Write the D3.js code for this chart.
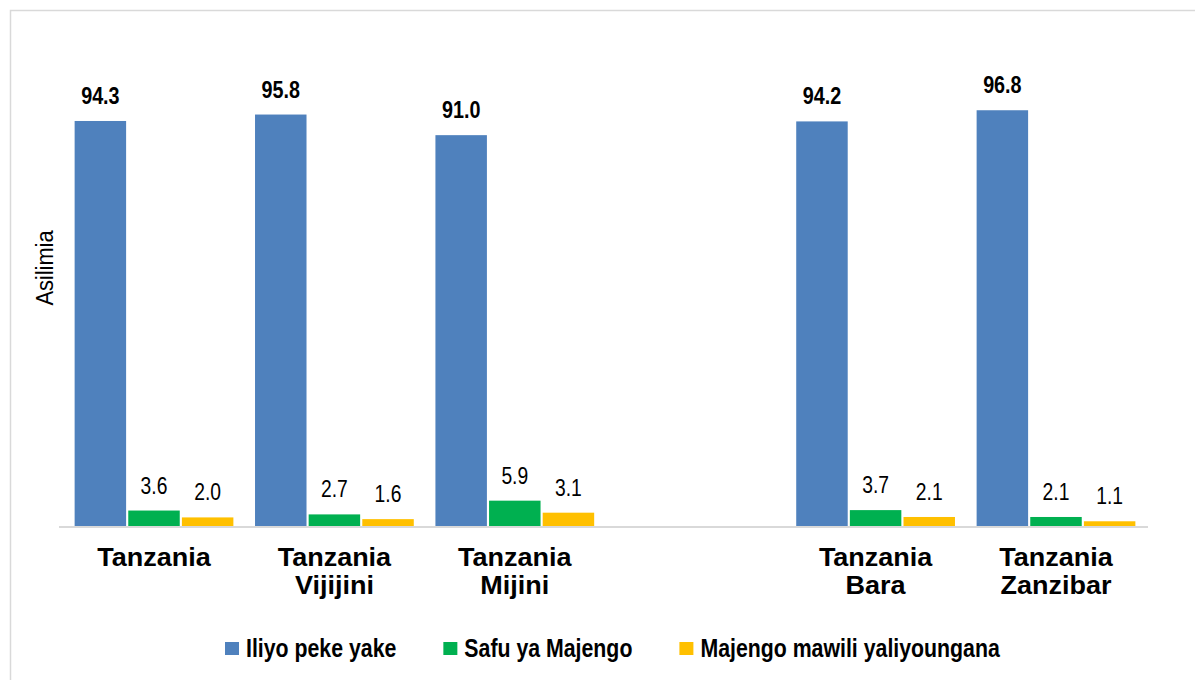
<!DOCTYPE html>
<html>
<head>
<meta charset="utf-8">
<script src="https://cdn.jsdelivr.net/npm/d3@7"></script>
<style>
  body { margin: 0; background: #fff; }
  svg text { fill: #000; font-family: 'Liberation Sans', Arial, sans-serif; }
</style>
</head>
<body>
<div id="chart"></div>
<script>
// categories (empty slot between Mijini and Bara)
var categories = ["Tanzania", "Tanzania Vijijini", "Tanzania Mijini", "", "Tanzania Bara", "Tanzania Zanzibar"];
var seriesNames = ["Iliyo peke yake", "Safu ya Majengo", "Majengo mawili yaliyoungana"];
var iliyoPeke = [94.3, 95.8, 91.0, null, 94.2, 96.8];
var safuMajengo = [3.6, 2.7, 5.9, null, 3.7, 2.1];
var majengoMawili = [2.0, 1.6, 3.1, null, 2.1, 1.1];
var colors = ["#4f81bd", "#00b050", "#ffc000"];
var yTitle = "Asilimia";

var width = 1195, height = 680;
var series = [iliyoPeke, safuMajengo, majengoMawili];

// no narrow font installed, so squeeze text horizontally
function place(x, y, sx, rot) {
  return 'translate(' + x + ',' + y + ')' + (rot ? ' rotate(' + rot + ')' : '') + ' scale(' + sx + ',1)';
}

var svg = d3.select('#chart')
  .append('svg')
  .attr('width', width)
  .attr('height', height);

// chart frame
svg.append('rect')
  .attr('x', 10.5).attr('y', 10.5)
  .attr('width', 1200).attr('height', 700)
  .attr('fill', 'none')
  .attr('stroke', '#d9d9d9')
  .attr('stroke-width', 1.5);

var x0 = d3.scaleBand()
  .domain(d3.range(categories.length))
  .range([62, 1148])
  .paddingInner(0.12)
  .paddingOuter(0.07);

var x1 = d3.scaleBand()
  .domain(d3.range(series.length))
  .range([0, x0.bandwidth()])
  .paddingInner(0.04);

var y = d3.scaleLinear()
  .domain([0, 100])
  .range([526, 96.5]);

var fmt = d3.format(".1f");

var rows = [];
categories.forEach(function(c, i) {
  series.forEach(function(s, j) {
    if (s[i] != null) rows.push({cat: i, ser: j, value: s[i]});
  });
});

var g = svg.append('g');

g.selectAll('rect.bar')
  .data(rows)
  .enter()
  .append('rect')
  .attr('class', 'bar')
  .attr('x', d => x0(d.cat) + x1(d.ser))
  .attr('y', d => y(d.value))
  .attr('width', x1.bandwidth())
  .attr('height', d => y(0) - y(d.value))
  .attr('fill', d => colors[d.ser]);

// baseline
svg.append('line')
  .attr('x1', 59).attr('x2', 1148)
  .attr('y1', y(0) + 1).attr('y2', y(0) + 1)
  .attr('stroke', '#d9d9d9')
  .attr('stroke-width', 2);

// value labels
g.selectAll('text.val')
  .data(rows)
  .enter()
  .append('text')
  .attr('class', 'val')
  .attr('transform', d => place(x0(d.cat) + x1(d.ser) + x1.bandwidth() / 2, y(d.value) - 17, d.ser === 0 ? 0.86 : 0.84))
  .attr('text-anchor', 'middle')
  .style('font-size', '23px')
  .style('font-weight', d => d.ser === 0 ? 'bold' : 'normal')
  .text(d => fmt(d.value));

// category labels
categories.forEach(function(c, i) {
  if (!c) return;
  c.split(' ').forEach(function(line, k) {
    svg.append('text')
      .attr('transform', place(x0(i) + x0.bandwidth() / 2, 566 + k * 28, 1.08))
      .attr('text-anchor', 'middle')
      .style('font-size', '25px')
      .style('font-weight', 'bold')
      .text(line);
  });
});

// y axis title
svg.append('text')
  .attr('transform', place(53, 268, 0.91, -90))
  .attr('text-anchor', 'middle')
  .style('font-size', '24px')
  .text(yTitle);

// legend
var lx = 225, lsx = 0.852;
seriesNames.forEach(function(name, j) {
  svg.append('rect')
    .attr('x', lx).attr('y', 642)
    .attr('width', 14).attr('height', 13)
    .attr('fill', colors[j]);
  var t = svg.append('text')
    .attr('transform', place(lx + 21, 657, lsx))
    .style('font-size', '25px')
    .style('font-weight', 'bold')
    .text(name);
  lx += 21 + t.node().getComputedTextLength() * lsx + 47;
});
</script>
</body>
</html>
